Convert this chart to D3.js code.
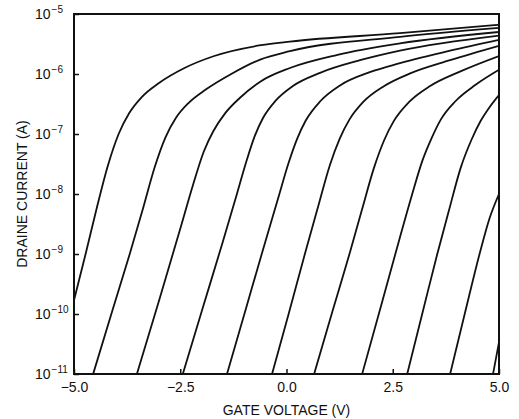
<!DOCTYPE html>
<html>
<head>
<meta charset="utf-8">
<script src="https://cdn.jsdelivr.net/npm/d3@7"></script>
<style>
body { margin: 0; background: #fff; }
svg { display: block; }
text { font-family: "Liberation Sans", Arial, sans-serif; fill: #111; }
</style>
</head>
<body>
<svg width="519" height="419"></svg>
<script>
// each curve: [gate voltage (V), log10 drain current (A)]
var curve0 = [[-5.00,-9.77],[-4.72,-8.98],[-4.46,-8.22],[-4.20,-7.52],[-3.95,-7.00],[-3.70,-6.65],[-3.40,-6.38],[-3.00,-6.15],[-2.40,-5.90],[-1.70,-5.70],[-0.60,-5.52],[0.08,-5.46],[2.67,-5.32],[5.00,-5.18]];
var curve1 = [[-4.55,-11.00],[-4.10,-9.95],[-3.68,-8.98],[-3.38,-8.25],[-3.10,-7.55],[-2.85,-7.06],[-2.60,-6.73],[-2.30,-6.48],[-1.90,-6.26],[-1.30,-6.00],[-0.62,-5.76],[0.08,-5.62],[2.67,-5.38],[5.00,-5.23]];
var curve2 = [[-3.52,-11.00],[-3.00,-9.78],[-2.50,-8.58],[-2.20,-7.85],[-1.95,-7.30],[-1.72,-6.95],[-1.45,-6.66],[-1.10,-6.40],[-0.60,-6.12],[0.08,-5.90],[1.20,-5.68],[2.67,-5.49],[5.00,-5.30]];
var curve3 = [[-2.44,-11.00],[-1.95,-9.85],[-1.50,-8.80],[-1.20,-8.08],[-0.95,-7.47],[-0.75,-7.04],[-0.55,-6.73],[-0.25,-6.44],[0.15,-6.20],[0.79,-5.98],[1.73,-5.77],[2.67,-5.61],[5.00,-5.36]];
var curve4 = [[-1.40,-11.00],[-0.95,-9.90],[-0.55,-8.92],[-0.20,-8.08],[0.05,-7.48],[0.25,-7.08],[0.45,-6.78],[0.80,-6.45],[1.26,-6.19],[1.96,-5.97],[2.67,-5.82],[3.85,-5.61],[5.00,-5.43]];
var curve5 = [[-0.34,-11.00],[0.05,-10.00],[0.44,-8.98],[0.74,-8.22],[1.02,-7.52],[1.25,-7.08],[1.48,-6.76],[1.80,-6.47],[2.30,-6.20],[2.91,-5.99],[3.85,-5.77],[5.00,-5.53]];
var curve6 = [[0.65,-11.00],[1.08,-9.96],[1.49,-8.98],[1.78,-8.25],[2.06,-7.56],[2.30,-7.10],[2.52,-6.79],[2.88,-6.47],[3.38,-6.20],[4.08,-5.96],[5.00,-5.70]];
var curve7 = [[1.78,-11.00],[2.25,-9.80],[2.67,-8.72],[2.95,-8.02],[3.20,-7.44],[3.42,-7.06],[3.63,-6.76],[3.98,-6.45],[4.45,-6.18],[5.00,-5.93]];
var curve8 = [[2.84,-11.00],[3.20,-9.98],[3.54,-9.02],[3.82,-8.28],[4.10,-7.56],[4.35,-7.10],[4.57,-6.78],[4.79,-6.54],[5.00,-6.35]];
var curve9 = [[3.85,-11.00],[4.20,-9.98],[4.55,-8.98],[4.78,-8.40],[5.00,-8.00]];
var curve10 = [[4.86,-11.00],[5.00,-10.47]];

var xTicks = [-5, -2.5, 0, 2.5, 5];
var xTickLabels = ["\u22125.0", "\u22122.5", "0.0", "2.5", "5.0"];
var yExponents = [-5, -6, -7, -8, -9, -10, -11];

var curves = [curve0, curve1, curve2, curve3, curve4, curve5, curve6, curve7, curve8, curve9, curve10];

var svg = d3.select("svg"),
    margin = {top: 14, right: 20, bottom: 45, left: 74},
    width = +svg.attr("width") - margin.left - margin.right,
    height = +svg.attr("height") - margin.top - margin.bottom,
    g = svg.append("g").attr("transform", "translate(" + margin.left + "," + margin.top + ")");

var x = d3.scaleLinear().domain([-5, 5]).range([0, width]);
var y = d3.scaleLog().domain([1e-11, 1e-5]).range([height, 0]);

svg.append("defs").append("clipPath").attr("id", "plot")
  .append("rect").attr("width", width).attr("height", height);

var line = d3.line()
    .x(function(d) { return x(d[0]); })
    .y(function(d) { return y(Math.pow(10, d[1])); })
    .curve(d3.curveMonotoneX);

g.append("g")
    .attr("clip-path", "url(#plot)")
  .selectAll("path")
  .data(curves)
  .enter().append("path")
    .attr("d", line)
    .attr("fill", "none")
    .attr("stroke", "#111")
    .attr("stroke-width", 1.8);

// x axis, ticks point into the plot
var xAxis = g.append("g")
    .attr("transform", "translate(0," + height + ")")
    .call(d3.axisBottom(x).tickValues(xTicks).tickSize(-5).tickPadding(8)
      .tickFormat(function(d, i) { return xTickLabels[i]; }));
xAxis.select(".domain").remove();
xAxis.selectAll("line").attr("stroke", "#111").attr("stroke-width", 1.5);
xAxis.selectAll("text").attr("font-size", 14).attr("font-family", null);

// y axis with 10^n labels
var yAxis = g.append("g")
    .call(d3.axisLeft(y).tickValues(yExponents.map(function(e) { return Math.pow(10, e); }))
      .tickSize(-5).tickFormat(""));
yAxis.select(".domain").remove();
yAxis.selectAll("line").attr("stroke", "#111").attr("stroke-width", 1.5);

var yLab = g.append("g").selectAll("text")
  .data(yExponents)
  .enter().append("text")
    .attr("x", -39)
    .attr("y", function(d) { return y(Math.pow(10, d)); })
    .attr("dy", "0.36em")
    .attr("font-size", 14);
yLab.append("tspan").text("10");
yLab.append("tspan")
    .attr("font-size", 10)
    .attr("dx", 1)
    .attr("dy", -6)
    .text(function(d) { return "\u2212" + Math.abs(d); });

// frame
g.append("rect")
    .attr("width", width)
    .attr("height", height)
    .attr("fill", "none")
    .attr("stroke", "#111")
    .attr("stroke-width", 2);

svg.append("text")
    .attr("x", margin.left + x(0))
    .attr("y", 415)
    .attr("text-anchor", "middle")
    .attr("font-size", 14)
    .text("GATE VOLTAGE (V)");

svg.append("text")
    .attr("transform", "translate(27," + (margin.top + height / 2) + ") rotate(-90)")
    .attr("text-anchor", "middle")
    .attr("font-size", 14)
    .text("DRAINE CURRENT (A)");
</script>
</body>
</html>
